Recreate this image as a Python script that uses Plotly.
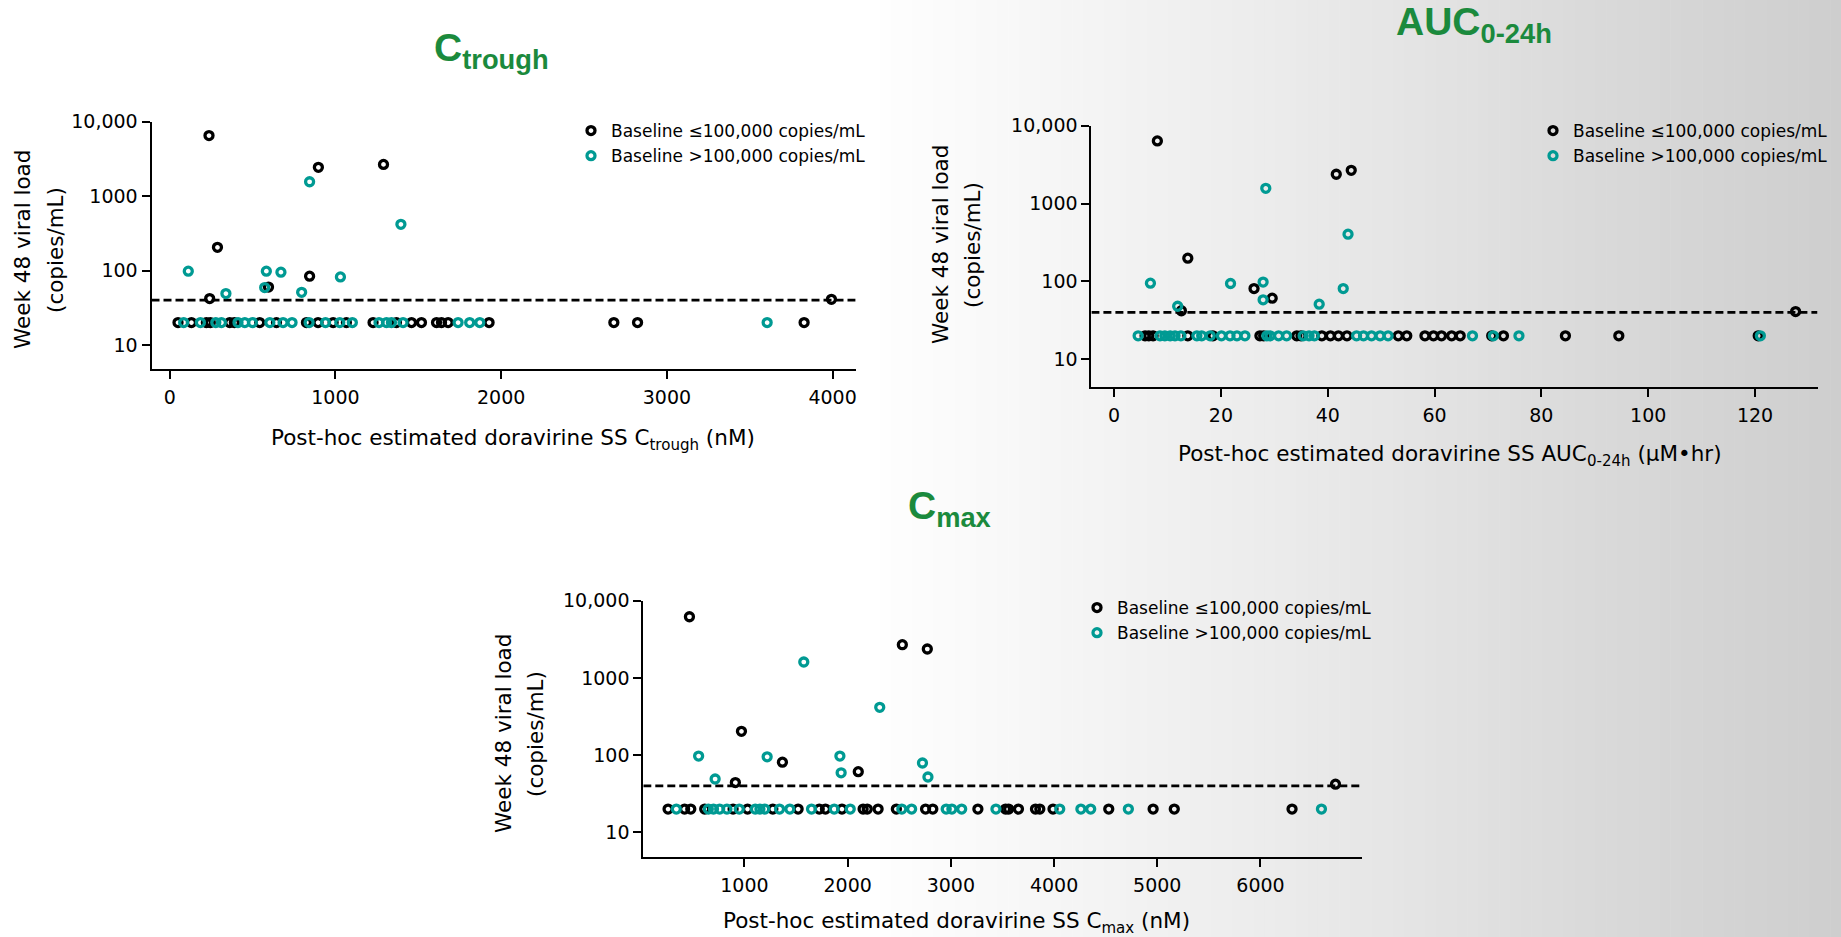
import plotly.graph_objects as go

W, H = 1841, 937

# ---------------- data ----------------
LLOQ = 40  # dashed reference line (copies/mL)

LEGEND_LE = "Baseline ≤100,000 copies/mL"
LEGEND_GT = "Baseline >100,000 copies/mL"

# Ctrough (nM)
ctrough_le_x = [237, 897, 1290, 288, 844, 596, 241, 3993,
                50, 131, 221, 245, 362, 390, 543, 644, 825, 895, 986, 1066, 1227, 1368,
                1459, 1519, 1610, 1640, 1680, 1927, 2680, 2823, 3828]
ctrough_le_y = [6500, 2440, 2670, 205, 84, 60, 42, 41,
                20, 20, 20, 20, 20, 20, 20, 20, 20, 20, 20, 20, 20, 20,
                20, 20, 20, 20, 20, 20, 20, 20, 20]
ctrough_gt_x = [112, 844, 1395, 583, 671, 1030, 573, 339, 796,
                84, 185, 278, 312, 412, 453, 499, 604, 684, 738, 841, 940, 1026, 1102,
                1263, 1308, 1338, 1408, 1740, 1810, 1871, 3605]
ctrough_gt_y = [98, 1560, 418, 98, 95, 82, 59, 49, 51,
                20, 20, 20, 20, 20, 20, 20, 20, 20, 20, 20, 20, 20, 20,
                20, 20, 20, 20, 20, 20, 20, 20]

# AUC0-24h (uM*hr)
auc_le_x = [8.1, 41.6, 44.4, 13.8, 26.2, 29.6, 12.6, 127.6,
            5.8, 6.5, 7.3, 13.8, 18.5, 27.3, 28.0, 34.2, 35.0, 38.9, 40.5, 42.0, 43.6,
            53.2, 54.8, 58.2, 59.8, 61.3, 63.2, 64.8, 70.7, 72.9, 84.5, 94.5, 120.6]
auc_le_y = [6370, 2380, 2670, 199, 81, 61, 42, 41,
            20, 20, 20, 20, 20, 20, 20, 20, 20, 20, 20, 20, 20,
            20, 20, 20, 20, 20, 20, 20, 20, 20, 20, 20, 20]
auc_gt_x = [6.8, 28.4, 43.8, 21.8, 27.9, 42.9, 27.9, 38.4, 11.9,
            4.5, 8.6, 9.5, 10.5, 11.4, 12.5, 15.5, 16.4, 18.0, 20.1, 21.7, 23.0, 24.5,
            28.6, 29.2, 30.8, 32.3, 35.4, 36.5, 37.5, 45.4, 46.7, 48.2, 49.8, 51.3,
            67.1, 71.0, 75.8, 121.0]
auc_gt_y = [95, 1570, 404, 94, 98, 81, 58, 51, 48,
            20, 20, 20, 20, 20, 20, 20, 20, 20, 20, 20, 20, 20,
            20, 20, 20, 20, 20, 20, 20, 20, 20, 20, 20, 20,
            20, 20, 20, 20]

# Cmax (nM)
cmax_le_x = [467, 2530, 2772, 971, 1368, 2103, 912, 6727,
             260, 420, 480, 615, 890, 1030, 1275, 1520, 1725, 1785, 1945, 2150, 2190,
             2295, 2472, 2755, 2825, 3262, 3530, 3560, 3655, 3820, 3862, 3990, 4530,
             4960, 5165, 6306]
cmax_le_y = [6200, 2690, 2366, 203, 81, 61, 44, 42,
             20, 20, 20, 20, 20, 20, 20, 20, 20, 20, 20, 20, 20,
             20, 20, 20, 20, 20, 20, 20, 20, 20, 20, 20, 20,
             20, 20, 20]
cmax_gt_x = [556, 1575, 2311, 1220, 1925, 1937, 2725, 2778, 716,
             340, 650, 700, 760, 830, 950, 1105, 1150, 1198, 1340, 1440, 1650, 1870,
             2025, 2525, 2620, 2955, 3010, 3105, 3437, 4055, 4260, 4355, 4720, 6591]
cmax_gt_y = [97, 1607, 416, 95, 97, 59, 79, 52, 49,
             20, 20, 20, 20, 20, 20, 20, 20, 20, 20, 20, 20, 20,
             20, 20, 20, 20, 20, 20, 20, 20, 20, 20, 20, 20]

y_tickvals = [10, 100, 1000, 10000]
y_ticktext = ["10", "100", "1000", "10,000"]
ctrough_xticks = [0, 1000, 2000, 3000, 4000]
auc_xticks = [0, 20, 40, 60, 80, 100, 120]
cmax_xticks = [1000, 2000, 3000, 4000, 5000, 6000]

# ---------------- style ----------------
BLACK = "#000000"
TEAL = "#009A93"
GREEN = "#1B8A3D"
FONT = "DejaVu Sans"
TITLE_FONT = "Liberation Sans"


def px(x):
    return x / W


def py(y):
    return 1 - y / H


panels = [
    dict(xa="x", ya="y", xd=(151.5, 855.8), yd=(121.7, 369.0), xr=[-110, 4140], yr=[0.677, 4],
         xt=ctrough_xticks, leg="legend",
         le=(ctrough_le_x, ctrough_le_y), gt=(ctrough_gt_x, ctrough_gt_y)),
    dict(xa="x2", ya="y2", xd=(1091.4, 1817.5), yd=(125.7, 386.7), xr=[-4.25, 131.7], yr=[0.648, 4],
         xt=auc_xticks, leg="legend2",
         le=(auc_le_x, auc_le_y), gt=(auc_gt_x, auc_gt_y)),
    dict(xa="x3", ya="y3", xd=(643.3, 1361.6), yd=(600.7, 857.3), xr=[20, 6980], yr=[0.676, 4],
         xt=cmax_xticks, leg="legend3",
         le=(cmax_le_x, cmax_le_y), gt=(cmax_gt_x, cmax_gt_y)),
]

fig = go.Figure()
layout = dict(
    width=W, height=H,
    margin=dict(l=0, r=0, t=0, b=0, pad=0, autoexpand=False),
    paper_bgcolor="white",
    plot_bgcolor="rgba(0,0,0,0)",
    font=dict(family=FONT, color="black", size=19),
    showlegend=True,
)

for i, p in enumerate(panels):
    fig.add_trace(go.Scatter(
        x=[p["xr"][0], p["xr"][1]], y=[LLOQ, LLOQ], mode="lines",
        line=dict(color="black", width=2.8, dash="8px,4px"),
        xaxis=p["xa"], yaxis=p["ya"], showlegend=False, hoverinfo="skip", cliponaxis=False))
    fig.add_trace(go.Scatter(
        x=p["le"][0], y=p["le"][1], mode="markers", name=LEGEND_LE,
        marker=dict(symbol="circle-open", size=8, color=BLACK, line=dict(width=3.3, color=BLACK)),
        xaxis=p["xa"], yaxis=p["ya"], legend=p["leg"], cliponaxis=False))
    fig.add_trace(go.Scatter(
        x=p["gt"][0], y=p["gt"][1], mode="markers", name=LEGEND_GT,
        marker=dict(symbol="circle-open", size=8, color=TEAL, line=dict(width=3.3, color=TEAL)),
        xaxis=p["xa"], yaxis=p["ya"], legend=p["leg"], cliponaxis=False))

    xkey = "xaxis" if i == 0 else "xaxis%d" % (i + 1)
    ykey = "yaxis" if i == 0 else "yaxis%d" % (i + 1)
    layout[xkey] = dict(
        domain=[px(p["xd"][0]), px(p["xd"][1])], anchor=p["ya"], range=p["xr"], automargin=False,
        showline=True, linecolor="black", linewidth=2, showgrid=False, zeroline=False,
        ticks="outside", ticklen=8, tickwidth=2, tickcolor="black",
        tickvals=p["xt"], tickfont=dict(size=19, family=FONT), ticklabelstandoff=2)
    layout[ykey] = dict(
        domain=[py(p["yd"][1]), py(p["yd"][0])], anchor=p["xa"], type="log", range=p["yr"],
        automargin=False,
        showline=True, linecolor="black", linewidth=2, showgrid=False, zeroline=False,
        ticks="outside", ticklen=8, tickwidth=2, tickcolor="black",
        tickvals=y_tickvals, ticktext=y_ticktext, tickfont=dict(size=19, family=FONT),
        ticklabelstandoff=0)

legend_pos = {"legend": (571, 113), "legend2": (1533, 113), "legend3": (1077, 590)}
for k, (lx, ly) in legend_pos.items():
    layout[k] = dict(x=px(lx), y=py(ly), xanchor="left", yanchor="top",
                     bgcolor="rgba(0,0,0,0)", font=dict(size=17, family=FONT, color="black"),
                     tracegroupgap=0, itemsizing="trace")

# background gradient on the right side
shapes = []
stops = [(880, 254), (1115, 243), (1303, 234), (1397, 229), (1567, 219), (1841, 206)]
N = 90
x0 = stops[0][0]
step = (W - x0) / N
for k in range(N):
    xa = x0 + k * step
    xm = xa + step / 2
    c = stops[-1][1]
    for (a, ca), (b, cb) in zip(stops[:-1], stops[1:]):
        if a <= xm <= b:
            c = ca + (cb - ca) * (xm - a) / (b - a)
            break
    c = int(round(c))
    shapes.append(dict(type="rect", xref="paper", yref="paper", x0=px(xa), x1=px(xa + step + 0.6),
                       y0=0, y1=1, fillcolor="rgb(%d,%d,%d)" % (c, c, c), line=dict(width=0),
                       layer="below"))
layout["shapes"] = shapes

annotations = []


def ann(text, x, y, size, angle=0, color="black", bold=False, family=FONT):
    annotations.append(dict(
        text=("<b>%s</b>" % text) if bold else text, x=px(x), y=py(y), xref="paper", yref="paper",
        showarrow=False, textangle=angle, xanchor="center", yanchor="middle",
        font=dict(size=size, family=family, color=color)))


# panel titles
ann("C<sub>trough</sub>", 491, 51, 39, color=GREEN, bold=True, family=TITLE_FONT)
ann("AUC<sub>0-24h</sub>", 1474, 25, 39, color=GREEN, bold=True, family=TITLE_FONT)
ann("C<sub>max</sub>", 949, 508, 39, color=GREEN, bold=True, family=TITLE_FONT)

# x-axis titles
ann("Post-hoc estimated doravirine SS C<sub>trough</sub> (nM)", 513, 440, 21.5)
ann("Post-hoc estimated doravirine SS AUC<sub>0-24h</sub> (µM•hr)", 1450, 455, 21.5)
ann("Post-hoc estimated doravirine SS C<sub>max</sub> (nM)", 956, 922, 21.5)

# y-axis titles
for (xa, xb, yc) in [(23, 56, 250), (941, 973, 245), (503, 535, 734)]:
    ann("Week 48 viral load", xa, yc, 21.5, angle=-90)
    ann("(copies/mL)", xb, yc, 21.5, angle=-90)

layout["annotations"] = annotations
fig.update_layout(**layout)

post = ("document.documentElement.style.margin='0';document.body.style.margin='0';"
        "document.body.style.padding='0';document.body.style.overflow='hidden';"
        "var gd=document.getElementById('{plot_id}');gd.style.position='fixed';"
        "gd.style.top='0px';gd.style.left='0px';")
fig.write_html("out.html", post_script=post, config={"displayModeBar": False})
